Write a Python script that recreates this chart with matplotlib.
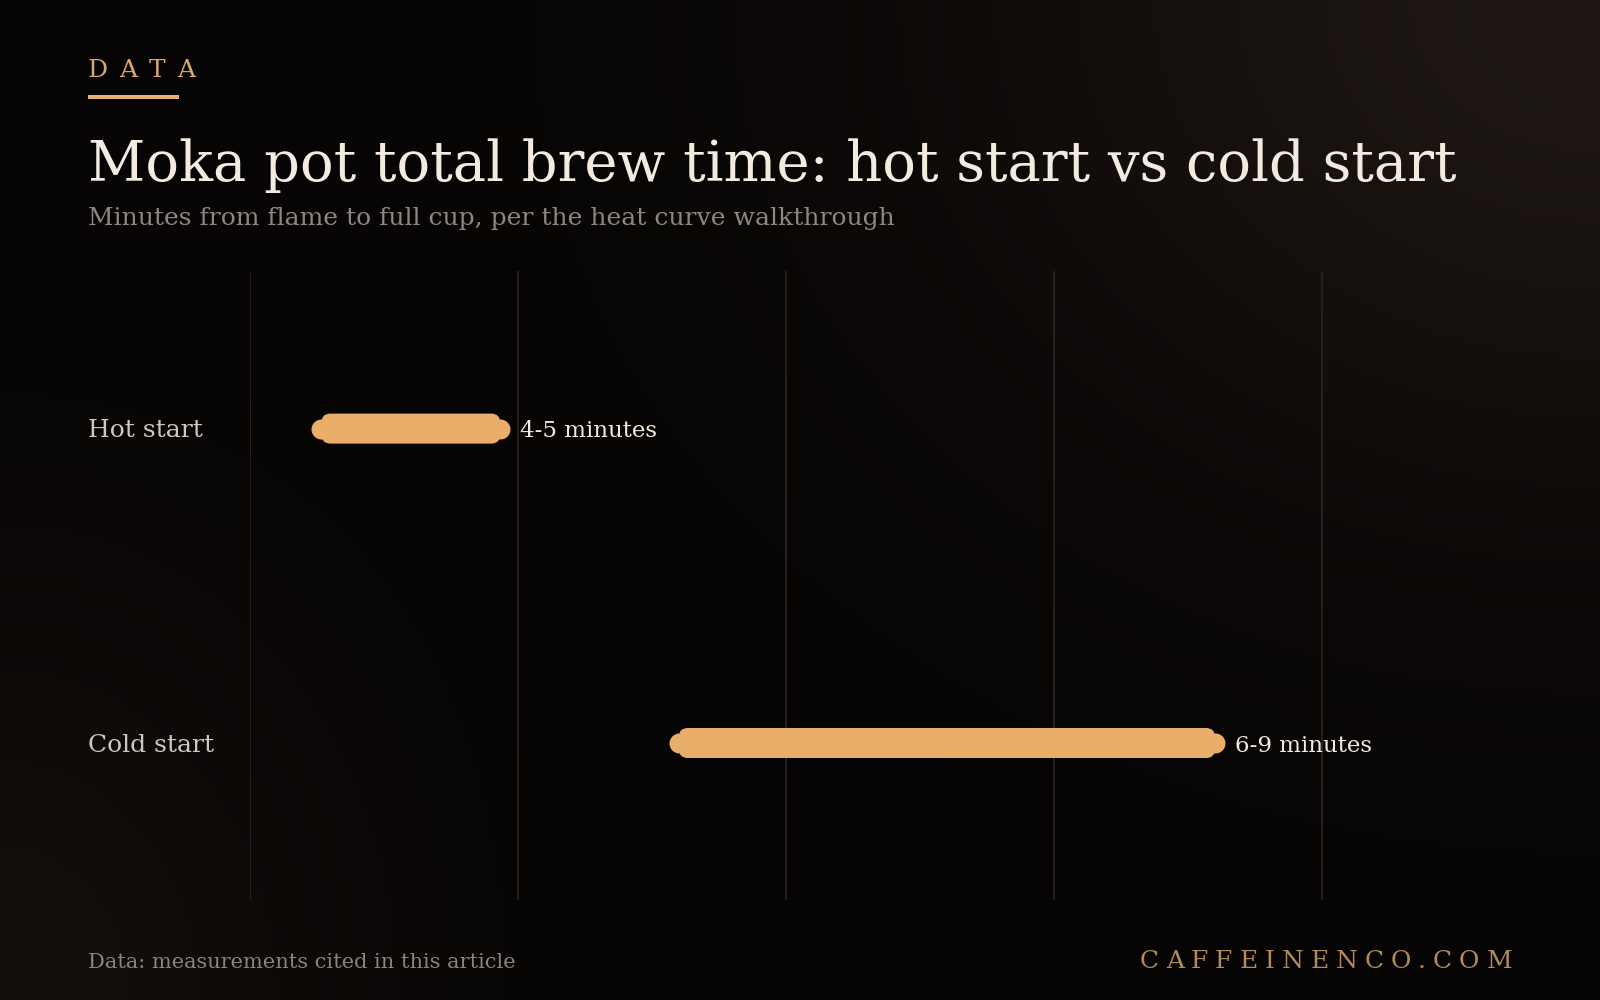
import numpy as np
import matplotlib
matplotlib.use("Agg")
import matplotlib.pyplot as plt
from matplotlib.patches import FancyBboxPatch
from matplotlib.transforms import blended_transform_factory, offset_copy

# ---- data ----
categories = ["Hot start", "Cold start"]
range_low = [4, 6]
range_high = [5, 9]
range_labels = ["4-5 minutes", "6-9 minutes"]
grid_values = [3.6, 5.1, 6.6, 8.1, 9.6]

title = "Moka pot total brew time: hot start vs cold start"
subtitle = "Minutes from flame to full cup, per the heat curve walkthrough"
kicker = "DATA"
source = "Data: measurements cited in this article"
brand = "CAFFEINENCO.COM"

W, H = 1600, 1000
DPI = 100
SERIF = "DejaVu Serif"
BAR = "#E8AE6A"

fig = plt.figure(figsize=(W / DPI, H / DPI), dpi=DPI)
fig.patch.set_facecolor("#060404")

# ---- background glow ----
bg = fig.add_axes([0, 0, 1, 1])
bg.axis("off")
yy, xx = np.mgrid[0:H, 0:W].astype(float)
base = np.array([6, 4, 4], float)
g1 = np.exp(-(((xx - 1600) / 650) ** 2 + ((yy - 0) / 520) ** 2))
g2 = np.exp(-(((xx - 0) / 350) ** 2 + ((yy - 1000) / 420) ** 2))
img = base[None, None, :] + g1[..., None] * np.array([24, 19, 15]) + g2[..., None] * np.array([15, 11, 8])
img = np.clip(img / 255.0, 0, 1)
bg.imshow(img, extent=[0, W, H, 0], aspect="auto", interpolation="bilinear")
bg.set_xlim(0, W)
bg.set_ylim(H, 0)

# ---- main axes ----
px_per_min = 178.7
ax_left, ax_right = 250, 1500
ax_top, ax_bot = 271, 900
ax = fig.add_axes([ax_left / W, 1 - ax_bot / H, (ax_right - ax_left) / W, (ax_bot - ax_top) / H])
ax.set_facecolor("none")
x0 = 3.6
ax.set_xlim(x0, x0 + (ax_right - ax_left) / px_per_min)
row_px = 314.4
span_units = (ax_bot - ax_top) / row_px
top_off = (428.6 - ax_top) / row_px
ax.set_ylim(-top_off + span_units, -top_off)
for s in ax.spines.values():
    s.set_visible(False)
ax.set_xticks([])
ax.set_yticks([])

for gv in grid_values:
    ax.axvline(gv, color="#2b2725", lw=1.1, zorder=1)

ypos = np.arange(len(categories))
bar_h = 30 / row_px
rx = 9 / px_per_min
aspect = (9 / row_px) / rx
for i, (lo, hi) in enumerate(zip(range_low, range_high)):
    p = FancyBboxPatch((lo, ypos[i] - bar_h / 2), hi - lo, bar_h,
                       boxstyle=f"round,pad=0,rounding_size={rx}",
                       mutation_aspect=aspect, fc=BAR, ec="none", zorder=3)
    ax.add_patch(p)
ax.scatter(range_low, ypos, s=(20 * 72 / DPI) ** 2, color=BAR, zorder=4, linewidths=0)
ax.scatter(range_high, ypos, s=(20 * 72 / DPI) ** 2, color=BAR, zorder=4, linewidths=0)

for i, lab in enumerate(range_labels):
    ax.annotate(lab, (range_high[i], ypos[i]), xytext=(20 * 72 / DPI, -8.5 * 72 / DPI),
                textcoords="offset points", ha="left", va="baseline",
                fontsize=16.5, family=SERIF, color="#F1E9DD", zorder=5)

tr = blended_transform_factory(fig.transFigure, ax.transData)
tr_lab = offset_copy(tr, fig=fig, x=0, y=-8.5, units="dots")
for i, cat in enumerate(categories):
    ax.text(88 / W, ypos[i], cat, transform=tr_lab, ha="left", va="baseline",
            fontsize=18, family=SERIF, color="#CFC8BF", clip_on=False)

# ---- header ----
def fy(y):
    return 1 - y / H

fig.text(88 / W, fy(181), title, fontsize=40.3, family=SERIF, color="#F3EBE0", ha="left", va="baseline")
fig.text(88 / W, fy(225), subtitle, fontsize=18, family=SERIF, color="#8D877F", ha="left", va="baseline")

renderer = fig.canvas.get_renderer()

def spaced(x_px, y_px, s, track_px, align="left", **kw):
    widths = []
    for ch in s:
        t = fig.text(0, 0, ch, **kw)
        widths.append(t.get_window_extent(renderer).width)
        t.remove()
    total = sum(widths) + track_px * (len(s) - 1)
    x = x_px if align == "left" else x_px - total
    for ch, w in zip(s, widths):
        fig.text(x / W, fy(y_px), ch, ha="left", va="baseline", **kw)
        x += w + track_px

spaced(88, 77, kicker, 11.3, fontsize=18, family=SERIF, color="#D9A86C")
fig.add_artist(plt.Line2D([88 / W, 179 / W], [fy(97), fy(97)], color="#E3AE72", lw=4 * 72 / DPI,
                          solid_capstyle="butt"))

fig.text(88 / W, fy(968), source, fontsize=15, family=SERIF, color="#8A847C", ha="left", va="baseline")
spaced(1512, 968, brand, 7, align="right", fontsize=18, family=SERIF, color="#B18B5C")

fig.savefig("out.png", dpi=DPI, facecolor=fig.get_facecolor())
